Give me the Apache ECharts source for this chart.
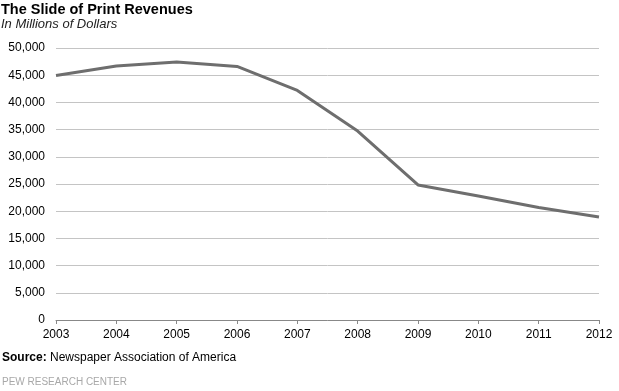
<!DOCTYPE html>
<html><head><meta charset="utf-8">
<script src="https://cdn.jsdelivr.net/npm/echarts@6/dist/echarts.min.js"></script>
<style>html,body{margin:0;padding:0;background:#fff}#c{width:619px;height:391px}</style>
</head><body><div id="c"></div>
<script>
const years = ['2003','2004','2005','2006','2007','2008','2009','2010','2011','2012'];
const revenues = [44939, 46703, 47408, 46611, 42209, 34740, 24821, 22795, 20692, 18931];
const yTicks = [0, 5000, 10000, 15000, 20000, 25000, 30000, 35000, 40000, 45000, 50000];

const chart = echarts.init(document.getElementById('c'), null, {renderer:'canvas'});
const ff = '"Liberation Sans", Arial, sans-serif';
chart.setOption({
  animation: false,
  textStyle: {fontFamily: ff},
  title: [
    {text: 'The Slide of Print Revenues', left: 1, top: 2, padding: 0,
     textStyle: {fontFamily: ff, fontSize: 14.5, fontWeight: 'bold', color: '#000'}},
    {text: 'In Millions of Dollars', left: 1, top: 18, padding: 0,
     textStyle: {fontFamily: ff, fontSize: 13, fontStyle: 'italic', fontWeight: 'normal', color: '#222'}},
    {text: '{b|Source:} Newspaper Association of America', left: 2, top: 352, padding: 0,
     textStyle: {fontFamily: ff, fontSize: 12, fontWeight: 'normal', color: '#000',
       rich: {b: {fontFamily: ff, fontSize: 12, fontWeight: 'bold', color: '#000'}}}},
    {text: 'PEW RESEARCH CENTER', left: 2, top: 377, padding: 0,
     textStyle: {fontFamily: ff, fontSize: 10, fontWeight: 'normal', color: '#a8a8a8'}}
  ],
  grid: {left: 56, right: 20, top: 48, bottom: 71},
  xAxis: {
    type: 'category', data: years, boundaryGap: false,
    axisLine: {lineStyle: {color: '#888', width: 1}},
    axisTick: {show: true, alignWithLabel: true, length: 4, lineStyle: {color: '#888'}},
    axisLabel: {color: '#000', fontSize: 12, margin: 9, fontFamily: ff},
    splitLine: {show: false}
  },
  yAxis: {
    type: 'value', min: yTicks[0], max: yTicks[yTicks.length-1], interval: 5000,
    axisLine: {show: false}, axisTick: {show: false},
    axisLabel: {color: '#000', fontSize: 12, margin: 11, fontFamily: ff,
      formatter: v => v.toLocaleString('en-US')},
    splitLine: {lineStyle: {color: '#c4c4c4', width: 1}}
  },
  series: [{
    type: 'line', data: revenues, symbol: 'none', smooth: false,
    lineStyle: {color: '#6e6e6e', width: 3}
  }]
});
</script></body></html>
